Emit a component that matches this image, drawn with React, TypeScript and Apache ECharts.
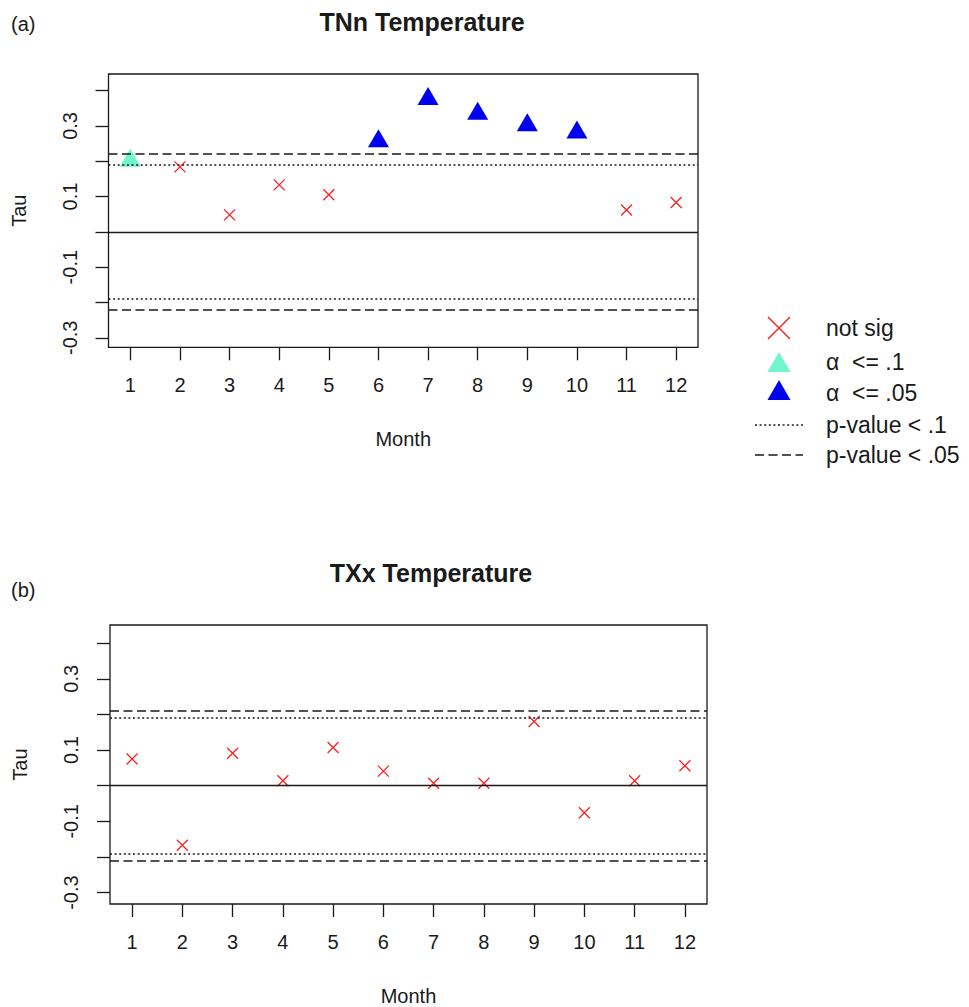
import React, { useEffect, useRef } from "react";
import * as echarts from "echarts";

// ---------- data ----------
const months = [1, 2, 3, 4, 5, 6, 7, 8, 9, 10, 11, 12];
const tnnTau = [0.21, 0.184, 0.048, 0.133, 0.105, 0.265, 0.385, 0.343, 0.31, 0.29, 0.062, 0.083];
const tnnSig = ["p10", "ns", "ns", "ns", "ns", "p05", "p05", "p05", "p05", "p05", "ns", "ns"];
const txxTau = [0.075, -0.167, 0.091, 0.014, 0.107, 0.041, 0.007, 0.007, 0.18, -0.076, 0.014, 0.056];
const txxSig = ["ns", "ns", "ns", "ns", "ns", "ns", "ns", "ns", "ns", "ns", "ns", "ns"];
const tnnCrit10 = 0.189;
const tnnCrit05 = 0.22;
const txxCrit10 = 0.191;
const txxCrit05 = 0.21;
const yTicks = [-0.3, -0.2, -0.1, 0, 0.1, 0.2, 0.3, 0.4];
const yTickLabels = [-0.3, -0.1, 0.1, 0.3];
const legendLabels = ["not sig", "\u03b1  <= .1", "\u03b1  <= .05", "p-value < .1", "p-value < .05"];

const FONT = "'Liberation Sans', Arial, sans-serif";
const RED = "#ff2020";
const AQUA = "#70f5cc";
const BLUE = "#0000f0";
const INK = "#1a1a1a";
const XPATH = "path://M0,0L10,10M10,0L0,10";

function pick(tau: number[], sig: string[], kind: string) {
  return months.map((m, i) => (sig[i] === kind ? [m, tau[i]] : null)).filter((d) => d !== null);
}

function makeX(gridIndex: number) {
  return {
    type: "value",
    gridIndex,
    min: 0.56,
    max: 12.44,
    name: "Month",
    nameLocation: "middle",
    nameGap: 82,
    nameTextStyle: { fontFamily: FONT, fontSize: 20, color: INK },
    axisLine: { show: false, onZero: false },
    splitLine: { show: false },
    axisTick: { show: true, inside: false, length: 13, customValues: months, lineStyle: { color: INK, width: 1.3 } },
    axisLabel: { customValues: months, margin: 28, fontFamily: FONT, fontSize: 20, color: INK },
  };
}

function makeY(gridIndex: number, min: number, max: number) {
  return {
    type: "value",
    gridIndex,
    min,
    max,
    name: "Tau",
    nameLocation: "middle",
    nameGap: 80,
    nameTextStyle: { fontFamily: FONT, fontSize: 20, color: INK },
    axisLine: { show: false, onZero: false },
    splitLine: { show: false },
    axisTick: { show: true, inside: false, length: 13, customValues: yTicks, lineStyle: { color: INK, width: 1.3 } },
    axisLabel: {
      customValues: yTickLabels,
      rotate: 90,
      margin: 29,
      fontFamily: FONT,
      fontSize: 20,
      color: INK,
      formatter: (v: number) => String(Math.round(v * 10) / 10),
    },
  };
}

function refLines(c10: number, c05: number) {
  const dotted = { type: [2, 2.6], color: INK, width: 1.5 };
  const dashed = { type: [9, 4.5], color: INK, width: 1.5 };
  return {
    silent: true,
    symbol: "none",
    animation: false,
    label: { show: false },
    emphasis: { disabled: true },
    data: [
      { yAxis: 0, lineStyle: { type: "solid", color: INK, width: 1.3 } },
      { yAxis: c10, lineStyle: dotted },
      { yAxis: -c10, lineStyle: dotted },
      { yAxis: c05, lineStyle: dashed },
      { yAxis: -c05, lineStyle: dashed },
    ],
  };
}

function seriesFor(idx: number, tau: number[], sig: string[], c10: number, c05: number) {
  return [
    {
      type: "scatter",
      name: "not sig",
      xAxisIndex: idx,
      yAxisIndex: idx,
      symbol: XPATH,
      symbolSize: 11,
      itemStyle: { color: RED, borderColor: RED, borderWidth: 1.3, opacity: 1 },
      data: pick(tau, sig, "ns"),
      markLine: refLines(c10, c05),
      z: 3,
    },
    {
      type: "scatter",
      name: "p10",
      xAxisIndex: idx,
      yAxisIndex: idx,
      symbol: "triangle",
      symbolSize: [21, 18],
      itemStyle: { color: AQUA, opacity: 1 },
      data: pick(tau, sig, "p10"),
      z: 4,
    },
    {
      type: "scatter",
      name: "p05",
      xAxisIndex: idx,
      yAxisIndex: idx,
      symbol: "triangle",
      symbolSize: [21, 18],
      itemStyle: { color: BLUE, opacity: 1 },
      data: pick(tau, sig, "p05"),
      z: 4,
    },
  ];
}

function legendGraphics() {
  const cx = 779;
  const rows = [328, 362, 393, 425, 455];
  const els: any[] = [];
  // X marker
  els.push({ type: "line", shape: { x1: cx - 11, y1: rows[0] - 11, x2: cx + 11, y2: rows[0] + 11 }, style: { stroke: RED, lineWidth: 1.5 } });
  els.push({ type: "line", shape: { x1: cx + 11, y1: rows[0] - 11, x2: cx - 11, y2: rows[0] + 11 }, style: { stroke: RED, lineWidth: 1.5 } });
  // triangles
  els.push({ type: "polygon", shape: { points: [[cx - 11.5, rows[1] + 10], [cx + 11.5, rows[1] + 10], [cx, rows[1] - 10]] }, style: { fill: AQUA } });
  els.push({ type: "polygon", shape: { points: [[cx - 11.5, rows[2] + 7], [cx + 11.5, rows[2] + 7], [cx, rows[2] - 13]] }, style: { fill: BLUE } });
  // lines
  els.push({ type: "line", shape: { x1: 755, y1: rows[3], x2: 803, y2: rows[3] }, style: { stroke: INK, lineWidth: 1.5, lineDash: [2, 2.6] } });
  els.push({ type: "line", shape: { x1: 755, y1: rows[4], x2: 803, y2: rows[4] }, style: { stroke: INK, lineWidth: 1.5, lineDash: [9, 4.5] } });
  legendLabels.forEach((t, i) => {
    els.push({
      type: "text",
      x: 826,
      y: rows[i],
      style: { text: t, fontFamily: FONT, fontSize: 23, fill: INK, textAlign: "left", textVerticalAlign: "middle" },
    });
  });
  return els;
}

export default function App() {
  const ref = useRef<HTMLDivElement>(null);
  useEffect(() => {
    if (!ref.current) return;
    const chart = echarts.init(ref.current, undefined, { renderer: "svg" });
    const option: any = {
      animation: false,
      backgroundColor: "#ffffff",
      grid: [
        { left: 108.5, top: 74, width: 589.5, height: 273.3, show: true, borderColor: INK, borderWidth: 1.3, backgroundColor: "transparent" },
        { left: 110, top: 625, width: 597, height: 279, show: true, borderColor: INK, borderWidth: 1.3, backgroundColor: "transparent" },
      ],
      xAxis: [makeX(0), makeX(1)],
      yAxis: [makeY(0, -0.327, 0.447), makeY(1, -0.332, 0.451)],
      series: [
        ...seriesFor(0, tnnTau, tnnSig, tnnCrit10, tnnCrit05),
        ...seriesFor(1, txxTau, txxSig, txxCrit10, txxCrit05),
      ],
      graphic: [
        { type: "text", x: 11, y: 24, style: { text: "(a)", fontFamily: FONT, fontSize: 20, fill: INK, textVerticalAlign: "middle" } },
        { type: "text", x: 11, y: 590, style: { text: "(b)", fontFamily: FONT, fontSize: 20, fill: INK, textVerticalAlign: "middle" } },
        { type: "text", x: 422, y: 22, style: { text: "TNn Temperature", fontFamily: FONT, fontSize: 25, fontWeight: "bold", fill: INK, textAlign: "center", textVerticalAlign: "middle" } },
        { type: "text", x: 431, y: 573, style: { text: "TXx Temperature", fontFamily: FONT, fontSize: 25, fontWeight: "bold", fill: INK, textAlign: "center", textVerticalAlign: "middle" } },
        ...legendGraphics(),
      ],
    };
    chart.setOption(option);
    return () => chart.dispose();
  }, []);
  return <div ref={ref} style={{ position: "absolute", left: 0, top: 0, width: 969, height: 1007 }} />;
}
